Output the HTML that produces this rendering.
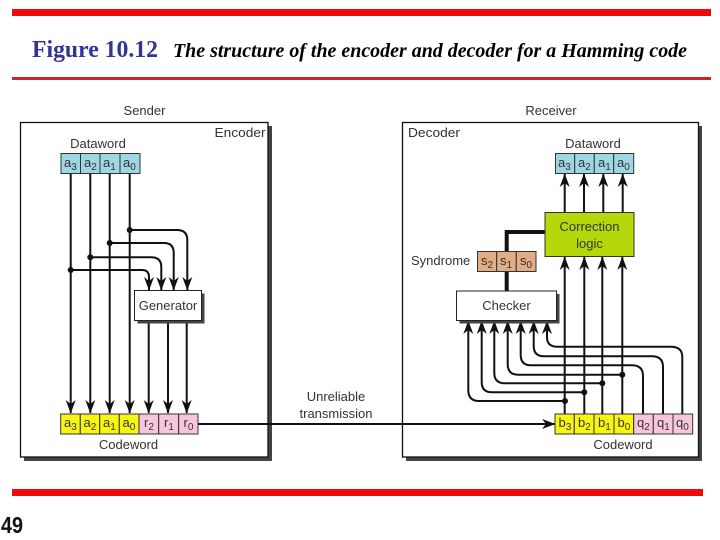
<!DOCTYPE html>
<html>
<head>
<meta charset="utf-8">
<style>
html,body{margin:0;padding:0;background:#fff;width:720px;height:540px;overflow:hidden}
svg{display:block}
text{font-family:"Liberation Sans",sans-serif;font-size:13px;fill:#333}
.c{text-anchor:middle}
.b{font-size:14px}
.b tspan{font-size:10px}
.w{fill:none;stroke:#111;stroke-width:2}
.cell{stroke:#333;stroke-width:1}
</style>
</head>
<body>
<svg width="720" height="540" viewBox="0 0 720 540" xmlns="http://www.w3.org/2000/svg">
<defs>
<marker id="a" markerUnits="userSpaceOnUse" markerWidth="16" markerHeight="14" refX="12" refY="5" orient="auto" overflow="visible">
<path d="M-1,0 L12.500,5 L-1,10 L3,5 Z" fill="#111"/>
</marker>
</defs>

<!-- header / footer bars -->
<rect x="12" y="9" width="699" height="7" fill="#ee0a0a"/>
<rect x="12" y="77" width="699" height="3" fill="#c8242a"/>
<rect x="12" y="489" width="691" height="7" fill="#ee0a0a"/>
<text x="32" y="57" textLength="126" lengthAdjust="spacingAndGlyphs" style="font-family:'Liberation Serif',serif;font-size:24px;font-weight:bold;fill:#333399">Figure 10.12</text>
<text x="173" y="57" textLength="514" lengthAdjust="spacingAndGlyphs" style="font-family:'Liberation Serif',serif;font-size:19.500px;font-weight:bold;font-style:italic;fill:#000">The structure of the encoder and decoder for a Hamming code</text>
<text x="1" y="533" textLength="22" lengthAdjust="spacingAndGlyphs" style="font-size:23px;font-weight:bold;fill:#111">49</text>

<!-- boxes -->
<rect x="24" y="126" width="248" height="335" fill="#444"/>
<rect x="20.500" y="122.500" width="247.500" height="334.500" fill="#fff" stroke="#111" stroke-width="1.300"/>
<rect x="406" y="126" width="296" height="335" fill="#444"/>
<rect x="402.500" y="122.500" width="296" height="334.500" fill="#fff" stroke="#111" stroke-width="1.300"/>

<text class="c" x="144.500" y="115">Sender</text>
<text class="c" x="551" y="115">Receiver</text>
<text x="214.500" y="137" textLength="51" lengthAdjust="spacingAndGlyphs">Encoder</text>
<text x="408" y="137" textLength="52" lengthAdjust="spacingAndGlyphs">Decoder</text>
<text class="c" x="98" y="148">Dataword</text>
<text class="c" x="593" y="148">Dataword</text>
<text class="c" x="128.500" y="449">Codeword</text>
<text class="c" x="623" y="449">Codeword</text>
<text class="c" x="336" y="401">Unreliable</text>
<text class="c" x="336" y="418">transmission</text>
<text x="411" y="265">Syndrome</text>

<!-- encoder wires -->
<g class="w">
<path d="M70.700 173V413" marker-end="url(#a)"/>
<path d="M90.300 173V413" marker-end="url(#a)"/>
<path d="M109.700 173V413" marker-end="url(#a)"/>
<path d="M129.700 173V413" marker-end="url(#a)"/>
<path d="M148.700 320V413" marker-end="url(#a)"/>
<path d="M168 320V413" marker-end="url(#a)"/>
<path d="M186.700 320V413" marker-end="url(#a)"/>
<path d="M129.700 230H177Q187.300 230 187.300 240V290" marker-end="url(#a)"/>
<path d="M109.700 243H164Q173.700 243 173.700 253V290" marker-end="url(#a)"/>
<path d="M90.300 257.300H151Q161.300 257.300 161.300 267V290" marker-end="url(#a)"/>
<path d="M70.700 270H142Q149 270 149 277V290" marker-end="url(#a)"/>
<path d="M198 424H555" marker-end="url(#a)"/>
</g>
<g fill="#111">
<circle cx="129.700" cy="230" r="3"/>
<circle cx="109.700" cy="243" r="3"/>
<circle cx="90.300" cy="257.300" r="3"/>
<circle cx="70.700" cy="270" r="3"/>
</g>

<!-- generator -->
<rect x="137.500" y="293.500" width="67" height="30" fill="#444"/>
<rect x="134.500" y="290.500" width="67" height="30" fill="#fff" stroke="#222" stroke-width="1"/>
<text class="c" x="168" y="310">Generator</text>

<!-- sender dataword -->
<g class="cell" fill="#9fd6e4">
<rect x="61" y="153.500" width="19.500" height="20"/>
<rect x="80.500" y="153.500" width="19.500" height="20"/>
<rect x="100" y="153.500" width="20" height="20"/>
<rect x="120" y="153.500" width="20" height="20"/>
</g>
<g class="b">
<text x="64" y="167">a<tspan dy="3">3</tspan></text>
<text x="84" y="167">a<tspan dy="3">2</tspan></text>
<text x="103" y="167">a<tspan dy="3">1</tspan></text>
<text x="123" y="167">a<tspan dy="3">0</tspan></text>
</g>

<!-- sender codeword -->
<g class="cell" fill="#f6f610">
<rect x="60.700" y="414" width="19.600" height="20"/>
<rect x="80.300" y="414" width="19.400" height="20"/>
<rect x="99.700" y="414" width="19.600" height="20"/>
<rect x="119.300" y="414" width="19.700" height="20"/>
</g>
<g class="cell" fill="#f8c6dc">
<rect x="139" y="414" width="19.700" height="20"/>
<rect x="158.700" y="414" width="20" height="20"/>
<rect x="178.700" y="414" width="19.300" height="20"/>
</g>
<g class="b">
<text x="64" y="427">a<tspan dy="3">3</tspan></text>
<text x="83.500" y="427">a<tspan dy="3">2</tspan></text>
<text x="103" y="427">a<tspan dy="3">1</tspan></text>
<text x="122.500" y="427">a<tspan dy="3">0</tspan></text>
<text x="144" y="427">r<tspan dy="3">2</tspan></text>
<text x="164" y="427">r<tspan dy="3">1</tspan></text>
<text x="183.500" y="427">r<tspan dy="3">0</tspan></text>
</g>

<!-- decoder wires -->
<g class="w">
<path d="M564.700 212V174" marker-end="url(#a)"/>
<path d="M584 212V174" marker-end="url(#a)"/>
<path d="M603.300 212V174" marker-end="url(#a)"/>
<path d="M622.700 212V174" marker-end="url(#a)"/>
<path d="M564.700 414V257" marker-end="url(#a)"/>
<path d="M584.300 414V257" marker-end="url(#a)"/>
<path d="M602.300 414V257" marker-end="url(#a)"/>
<path d="M622.300 414V257" marker-end="url(#a)"/>
<path d="M565 401H479Q468.300 401 468.300 390V321" marker-end="url(#a)"/>
<path d="M584.300 392.300H492Q481.700 392.300 481.700 382V321" marker-end="url(#a)"/>
<path d="M602.300 383.300H505Q494.300 383.300 494.300 373V321" marker-end="url(#a)"/>
<path d="M622.300 374.700H518Q507.700 374.700 507.700 364V321" marker-end="url(#a)"/>
<path d="M643 414V376Q643 365.300 632 365.300H531Q520.700 365.300 520.700 355V321" marker-end="url(#a)"/>
<path d="M663 414V367Q663 356.300 652 356.300H544Q533.700 356.300 533.700 346V321" marker-end="url(#a)"/>
<path d="M682.300 414V357Q682.300 346.700 671 346.700H557Q547 346.700 547 337V321" marker-end="url(#a)"/>
<path d="M545 232H506.700V291" style="stroke-width:4"/>
</g>
<g fill="#111">
<circle cx="565" cy="401" r="3"/>
<circle cx="584.300" cy="392.300" r="3"/>
<circle cx="602.300" cy="383.300" r="3"/>
<circle cx="622.300" cy="374.700" r="3"/>
</g>

<!-- correction logic -->
<rect x="545" y="212.500" width="89" height="44" fill="#b4d80a" stroke="#333" stroke-width="1"/>
<text class="c" x="589.500" y="231">Correction</text>
<text class="c" x="589.500" y="248">logic</text>

<!-- checker -->
<rect x="459.500" y="294" width="100" height="29.500" fill="#444"/>
<rect x="456.500" y="291" width="100" height="29.500" fill="#fff" stroke="#222" stroke-width="1"/>
<text class="c" x="506.500" y="310">Checker</text>

<!-- syndrome -->
<g class="cell" fill="#e2ad84">
<rect x="477.500" y="251.500" width="19.200" height="20"/>
<rect x="496.700" y="251.500" width="19.600" height="20"/>
<rect x="516.300" y="251.500" width="19.700" height="20"/>
</g>
<g class="b">
<text x="481" y="265">s<tspan dy="3">2</tspan></text>
<text x="500" y="265">s<tspan dy="3">1</tspan></text>
<text x="520" y="265">s<tspan dy="3">0</tspan></text>
</g>

<!-- receiver dataword -->
<g class="cell" fill="#9fd6e4">
<rect x="555.500" y="153.500" width="19.200" height="20"/>
<rect x="574.700" y="153.500" width="19.600" height="20"/>
<rect x="594.300" y="153.500" width="19.400" height="20"/>
<rect x="613.700" y="153.500" width="20" height="20"/>
</g>
<g class="b">
<text x="558" y="167">a<tspan dy="3">3</tspan></text>
<text x="578" y="167">a<tspan dy="3">2</tspan></text>
<text x="598" y="167">a<tspan dy="3">1</tspan></text>
<text x="617" y="167">a<tspan dy="3">0</tspan></text>
</g>

<!-- receiver codeword -->
<g class="cell" fill="#f6f610">
<rect x="555" y="414" width="19.300" height="20"/>
<rect x="574.300" y="414" width="19.700" height="20"/>
<rect x="594" y="414" width="20" height="20"/>
<rect x="614" y="414" width="19.700" height="20"/>
</g>
<g class="cell" fill="#f8c6dc">
<rect x="633.700" y="414" width="19.600" height="20"/>
<rect x="653.300" y="414" width="19.700" height="20"/>
<rect x="673" y="414" width="19.700" height="20"/>
</g>
<g class="b">
<text x="558.500" y="427">b<tspan dy="3">3</tspan></text>
<text x="578" y="427">b<tspan dy="3">2</tspan></text>
<text x="598" y="427">b<tspan dy="3">1</tspan></text>
<text x="617.500" y="427">b<tspan dy="3">0</tspan></text>
<text x="637" y="427">q<tspan dy="3">2</tspan></text>
<text x="657" y="427">q<tspan dy="3">1</tspan></text>
<text x="676" y="427">q<tspan dy="3">0</tspan></text>
</g>
</svg>
</body>
</html>
